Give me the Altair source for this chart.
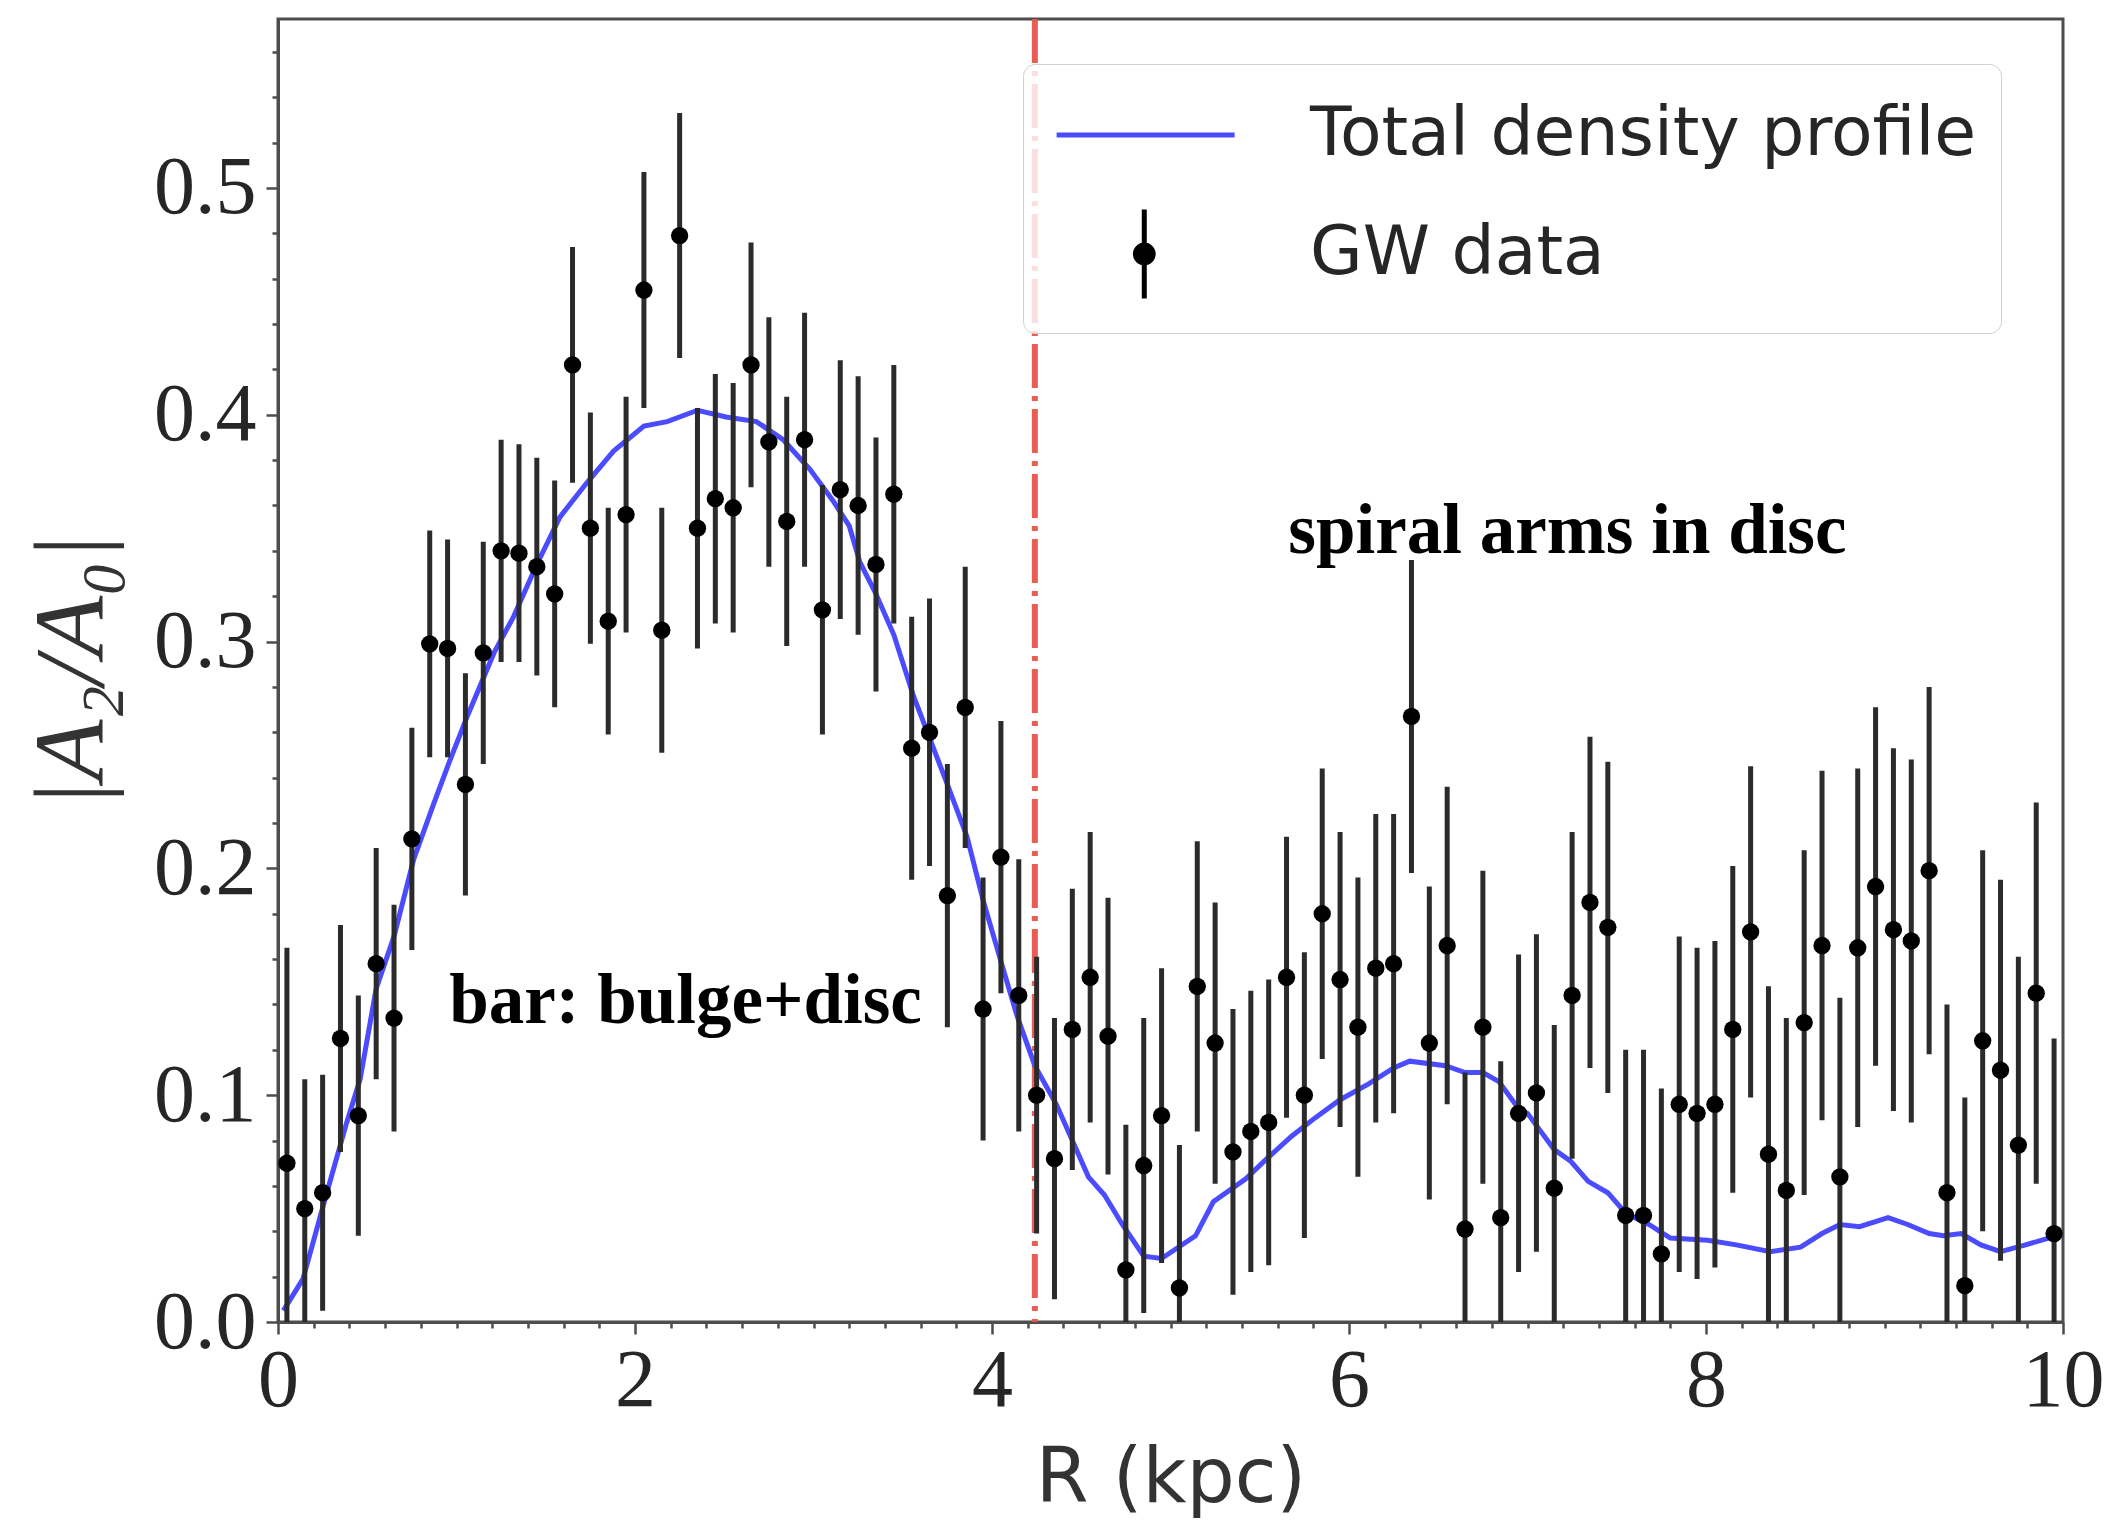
import altair as alt
import pandas as pd

# ---------------- data ----------------
R_KPC = [0.05, 0.15, 0.25, 0.35, 0.45, 0.55, 0.65, 0.75, 0.85, 0.95,
         1.05, 1.15, 1.25, 1.35, 1.45, 1.55, 1.65, 1.75, 1.85, 1.95,
         2.05, 2.15, 2.25, 2.35, 2.45, 2.55, 2.65, 2.75, 2.85, 2.95,
         3.05, 3.15, 3.25, 3.35, 3.45, 3.55, 3.65, 3.75, 3.85, 3.95,
         4.05, 4.15, 4.25, 4.35, 4.45, 4.55, 4.65, 4.75, 4.85, 4.95,
         5.05, 5.15, 5.25, 5.35, 5.45, 5.55, 5.65, 5.75, 5.85, 5.95,
         6.05, 6.15, 6.25, 6.35, 6.45, 6.55, 6.65, 6.75, 6.85, 6.95,
         7.05, 7.15, 7.25, 7.35, 7.45, 7.55, 7.65, 7.75, 7.85, 7.95,
         8.05, 8.15, 8.25, 8.35, 8.45, 8.55, 8.65, 8.75, 8.85, 8.95,
         9.05, 9.15, 9.25, 9.35, 9.45, 9.55, 9.65, 9.75, 9.85, 9.95]

A2_A0 = [0.070, 0.050, 0.057, 0.125, 0.091, 0.158, 0.134, 0.213, 0.299, 0.297,
         0.237, 0.295, 0.340, 0.339, 0.333, 0.321, 0.422, 0.350, 0.309, 0.356,
         0.455, 0.305, 0.479, 0.350, 0.363, 0.359, 0.422, 0.388, 0.353, 0.389,
         0.314, 0.367, 0.360, 0.334, 0.365, 0.253, 0.260, 0.188, 0.271, 0.138,
         0.205, 0.144, 0.100, 0.072, 0.129, 0.152, 0.126, 0.023, 0.069, 0.091,
         0.015, 0.148, 0.123, 0.075, 0.084, 0.088, 0.152, 0.100, 0.180, 0.151,
         0.130, 0.156, 0.158, 0.267, 0.123, 0.166, 0.041, 0.130, 0.046, 0.092,
         0.101, 0.059, 0.144, 0.185, 0.174, 0.047, 0.047, 0.030, 0.096, 0.092,
         0.096, 0.129, 0.172, 0.074, 0.058, 0.132, 0.166, 0.064, 0.165, 0.192,
         0.173, 0.168, 0.199, 0.057, 0.016, 0.124, 0.111, 0.078, 0.145, 0.039]

A2_ERR = [0.095, 0.057, 0.052, 0.050, 0.053, 0.051, 0.050, 0.049, 0.050, 0.048,
          0.049, 0.049, 0.049, 0.048, 0.048, 0.050, 0.052, 0.051, 0.050, 0.052,
          0.052, 0.054, 0.054, 0.053, 0.055, 0.055, 0.054, 0.055, 0.055, 0.056,
          0.055, 0.057, 0.057, 0.056, 0.057, 0.058, 0.059, 0.058, 0.062, 0.058,
          0.060, 0.060, 0.061, 0.062, 0.062, 0.064, 0.061, 0.064, 0.065, 0.065,
          0.063, 0.064, 0.062, 0.063, 0.062, 0.063, 0.062, 0.063, 0.064, 0.065,
          0.066, 0.068, 0.066, 0.069, 0.069, 0.070, 0.069, 0.069, 0.069, 0.070,
          0.070, 0.072, 0.072, 0.073, 0.073, 0.073, 0.073, 0.073, 0.074, 0.073,
          0.072, 0.072, 0.073, 0.074, 0.076, 0.076, 0.077, 0.079, 0.079, 0.079,
          0.080, 0.080, 0.081, 0.083, 0.083, 0.084, 0.084, 0.083, 0.084, 0.086]

PROFILE_R = [0.03, 0.14, 0.27, 0.385, 0.46, 0.55, 0.65, 0.76, 0.87, 0.96,
             1.06, 1.21, 1.32, 1.45, 1.58, 1.73, 1.88, 2.05, 2.18, 2.35,
             2.51, 2.68, 2.83, 2.98, 3.11, 3.20, 3.26, 3.35, 3.45, 3.56,
             3.75, 3.86, 3.95, 4.05, 4.14, 4.24, 4.36, 4.45, 4.54, 4.63,
             4.73, 4.85, 4.95, 5.14, 5.24, 5.42, 5.54, 5.68, 5.81, 5.95,
             6.11, 6.25, 6.34, 6.54, 6.65, 6.75, 6.84, 6.95, 7.0, 7.15,
             7.24, 7.34, 7.45, 7.55, 7.68, 7.80, 8.01, 8.17, 8.36, 8.53,
             8.65, 8.75, 8.86, 9.02, 9.13, 9.25, 9.33, 9.43, 9.54, 9.65,
             9.79, 9.92]
PROFILE_A2 = [0.005, 0.019, 0.056, 0.088, 0.107, 0.147, 0.170, 0.204, 0.228, 0.247,
              0.267, 0.295, 0.311, 0.334, 0.355, 0.370, 0.384, 0.395, 0.397, 0.402,
              0.399, 0.397, 0.389, 0.376, 0.362, 0.351, 0.335, 0.321, 0.303, 0.276,
              0.237, 0.214, 0.186, 0.159, 0.135, 0.113, 0.096, 0.080, 0.064, 0.056,
              0.043, 0.029, 0.028, 0.038, 0.053, 0.063, 0.072, 0.082, 0.090, 0.098,
              0.105, 0.112, 0.115, 0.113, 0.110, 0.110, 0.106, 0.094, 0.092, 0.076,
              0.071, 0.062, 0.057, 0.048, 0.043, 0.037, 0.036, 0.034, 0.031, 0.033,
              0.039, 0.043, 0.042, 0.046, 0.043, 0.039, 0.038, 0.039, 0.034, 0.031,
              0.034, 0.037]

BAR_END_R = [4.24]
NOTE_TEXT = ["bar: bulge+disc", "spiral arms in disc"]
NOTE_R = [0.96, 5.66]
NOTE_Y = [0.132, 0.339]
SERIES = ["Total density profile", "GW data"]

X_TICKS = [round(0.2 * i, 1) for i in range(51)]
Y_TICKS = [round(0.02 * i, 2) for i in range(29)]

# ---------------- styles ----------------
BLUE = "#4b4bff"
RED = "#e9544c"
SPINE = "#4d4d4d"

W, H = 1785, 1303

data = pd.DataFrame({"R": R_KPC, "A2": A2_A0, "err": A2_ERR})
profile = pd.DataFrame({"R": PROFILE_R, "A2": PROFILE_A2})
vline = pd.DataFrame({"R": BAR_END_R})
notes = pd.DataFrame({"R": NOTE_R, "A2": NOTE_Y, "text": NOTE_TEXT})
legend_df = pd.DataFrame({"R": [-5.0, -5.0], "A2": [0.1, 0.1], "series": SERIES})

xs = alt.Scale(domain=[0, 10], nice=False, zero=False)
ys = alt.Scale(domain=[0, 0.5745], nice=False, zero=False)

x_major = "abs(datum.value / 2 - round(datum.value / 2)) < 1e-6"
y_major = "abs(datum.value * 10 - round(datum.value * 10)) < 1e-6"

xaxis = alt.Axis(
    values=X_TICKS, title="R (kpc)", grid=False,
    labelExpr=f"{x_major} ? format(datum.value, 'd') : ''",
    tickSize={"condition": {"test": x_major, "value": 12}, "value": 6},
    tickWidth=2.5, tickColor=SPINE, domainColor=SPINE, domainWidth=3,
    labelFont="Liberation Serif", labelFontSize=82, labelColor="#262626",
    labelPadding=6, labelOverlap=False, labelFlush=False,
    titleFont="DejaVu Sans", titleFontSize=76, titleFontWeight="normal",
    titleColor="#333333", titlePadding=20,
)
yaxis = alt.Axis(
    values=Y_TICKS, title="|A₂/A₀|", grid=False,
    labelExpr=f"{y_major} ? format(datum.value, '.1f') : ''",
    tickSize={"condition": {"test": y_major, "value": 12}, "value": 6},
    tickWidth=2.5, tickColor=SPINE, domainColor=SPINE, domainWidth=3,
    labelFont="Liberation Serif", labelFontSize=82, labelColor="#262626",
    labelPadding=10, labelOverlap=False, labelFlush=False,
    titleFont="Liberation Serif", titleFontStyle="italic", titleFontSize=100,
    titleFontWeight="normal", titleColor="#333333", titlePadding=30,
)

def X(field="R"):
    return alt.X(f"{field}:Q", scale=xs, axis=xaxis)

def Y(field="A2"):
    return alt.Y(f"{field}:Q", scale=ys, axis=yaxis)

red_line = alt.Chart(vline).mark_rule(
    color=RED, strokeWidth=6, strokeDash=[44, 8, 5, 8], opacity=0.95
).encode(x=X())

blue_line = alt.Chart(profile).mark_line(
    color=BLUE, strokeWidth=5
).encode(x=X(), y=Y(), order="R:Q")

bars = alt.Chart(data).transform_calculate(
    lo="max(0, datum.A2 - datum.err)", hi="datum.A2 + datum.err"
).mark_rule(color="#2b2b2b", strokeWidth=5, clip=True).encode(
    x=X(), y=Y("lo"), y2=alt.Y2("hi:Q")
)

dots = alt.Chart(data).mark_circle(size=300, color="black", opacity=1).encode(
    x=X(), y=Y()
)

texts = alt.Chart(notes).mark_text(
    align="left", baseline="alphabetic", font="Liberation Serif",
    fontWeight="bold", fontSize=71, color="black"
).encode(x=X(), y=Y(), text="text:N")

LINE_PATH = "M-0.84,0L3.16,0"
ERR_PATH = ("M1.13,-1L1.13,1M0.93,0A0.2,0.2,0,1,0,1.33,0"
            "A0.2,0.2,0,1,0,0.93,0Z")

leg = alt.Legend(
    title=None, orient="none", legendX=745, legendY=45, padding=24,
    fillColor="rgba(255,255,255,0.8)", strokeColor="#d0d0d0", cornerRadius=12,
    symbolSize=7921, symbolStrokeWidth=5,
    labelFont="DejaVu Sans", labelFontSize=68, labelColor="#262626",
    labelOffset=169, rowPadding=30, labelLimit=1500,
)

legend_layer = alt.Chart(legend_df).mark_point(
    filled=True, clip=True, opacity=1, strokeWidth=5
).encode(
    x=X(), y=Y(),
    shape=alt.Shape("series:N", scale=alt.Scale(domain=SERIES, range=[LINE_PATH, ERR_PATH]), legend=leg),
    fill=alt.Fill("series:N", scale=alt.Scale(domain=SERIES, range=[BLUE, "black"]), legend=leg),
    stroke=alt.Stroke("series:N", scale=alt.Scale(domain=SERIES, range=[BLUE, "black"]), legend=leg),
)

chart = alt.layer(red_line, blue_line, bars, dots, texts, legend_layer).properties(
    width=W, height=H,
    padding={"left": 278, "top": 19, "right": 42, "bottom": 211},
    autosize=alt.AutoSizeParams(type="none"),
    background="white",
).configure_view(stroke=SPINE, strokeWidth=3)

chart.save("out.html", embed_options={"renderer": "svg", "actions": False})
